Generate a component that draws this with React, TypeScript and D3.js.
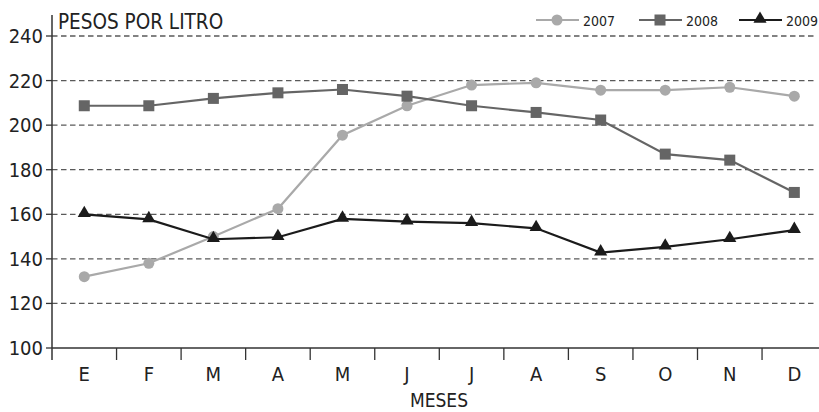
import React from "react";
import * as d3 from "d3";

const months = ["E", "F", "M", "A", "M", "J", "J", "A", "S", "O", "N", "D"];
const yTicks = [100, 120, 140, 160, 180, 200, 220, 240];
const s2007 = [132, 138, 150, 162.5, 195.5, 208.7, 218, 219, 215.7, 215.7, 217, 213];
const s2008 = [208.7, 208.7, 212, 214.5, 216, 213, 208.7, 205.7, 202.3, 187, 184.3, 169.8];
const s2009 = [160, 157.7, 148.8, 149.7, 157.9, 156.7, 156, 153.7, 142.8, 145.4, 148.8, 152.9];
const seriesNames = ["2007", "2008", "2009"];

const W = 819;
const H = 412;
const FONT = "'DejaVu Sans', sans-serif";

export default function App() {
  const x0 = 52;
  const step = 64.55;
  const x = d3
    .scaleBand<number>()
    .domain(months.map((_, i) => i))
    .range([x0, x0 + step * months.length])
    .padding(0);
  const y = d3.scaleLinear().domain([100, 240]).range([348, 36]);
  const cx = (i: number) => (x(i) as number) + x.bandwidth() / 2;

  const line = d3
    .line<number>()
    .x((_, i) => cx(i))
    .y((d) => y(d));

  const series = [
    { name: seriesNames[0], data: s2007, color: "#a9a9a9", marker: "circle" },
    { name: seriesNames[1], data: s2008, color: "#656565", marker: "square" },
    { name: seriesNames[2], data: s2009, color: "#1b1b1b", marker: "triangle" },
  ];

  const marker = (type: string, px: number, py: number, color: string, key: any) => {
    if (type === "circle") return <circle key={key} cx={px} cy={py} r={5.5} fill={color} />;
    if (type === "square")
      return <rect key={key} x={px - 5.5} y={py - 5.5} width={11} height={11} fill={color} />;
    const sym = d3.symbol().type(d3.symbolTriangle).size(75)();
    return <path key={key} d={sym as string} transform={`translate(${px},${py - 1})`} fill={color} />;
  };

  const legendPos = [536, 639, 739];
  const txt = { fontStretch: "condensed" as const };

  return (
    <svg
      width={W}
      height={H}
      style={{ position: "absolute", left: 0, top: 0, background: "#fff", fontStretch: "condensed" }}
      fontFamily={FONT}
    >
      {yTicks
        .filter((t) => t !== 100)
        .map((t) => (
          <line
            key={t}
            x1={x0}
            x2={817}
            y1={y(t)}
            y2={y(t)}
            stroke="#5a5a5a"
            strokeWidth={1.3}
            strokeDasharray="5.5,3.5"
          />
        ))}
      <line x1={x0} x2={x0} y1={15} y2={360} stroke="#333" strokeWidth={1.5} />
      {yTicks.map((t) => (
        <g key={t}>
          <line x1={46} x2={x0} y1={y(t)} y2={y(t)} stroke="#333" strokeWidth={1.3} />
          <text x={43} y={y(t) + 7} textAnchor="end" fontSize={20} fill="#222" style={txt}>
            {t}
          </text>
        </g>
      ))}
      <line x1={x0} x2={W} y1={348} y2={348} stroke="#333" strokeWidth={1.5} />
      {months.map((m, i) => (
        <g key={i}>
          {i > 0 && (
            <line x1={x(i)} x2={x(i)} y1={348} y2={360} stroke="#333" strokeWidth={1.3} />
          )}
          <text x={cx(i)} y={381} textAnchor="middle" fontSize={20} fill="#222" style={txt}>
            {m}
          </text>
        </g>
      ))}
      <text x={439} y={406.5} textAnchor="middle" fontSize={19} fill="#222" style={txt}>
        MESES
      </text>
      <text x={58} y={29} fontSize={20.5} fill="#222" style={txt}>
        PESOS POR LITRO
      </text>
      {series.map((s) => (
        <g key={s.name}>
          <path d={line(s.data) as string} fill="none" stroke={s.color} strokeWidth={2.2} />
          {s.data.map((v, i) => marker(s.marker, cx(i), y(v), s.color, i))}
        </g>
      ))}
      {series.map((s, k) => (
        <g key={s.name}>
          <line x1={legendPos[k]} x2={legendPos[k] + 43} y1={20} y2={20} stroke={s.color} strokeWidth={2.2} />
          {marker(s.marker, legendPos[k] + 21, 20, s.color, "m")}
          <text x={legendPos[k] + 47} y={25.5} fontSize={14} fill="#222" style={txt}>
            {s.name}
          </text>
        </g>
      ))}
    </svg>
  );
}
